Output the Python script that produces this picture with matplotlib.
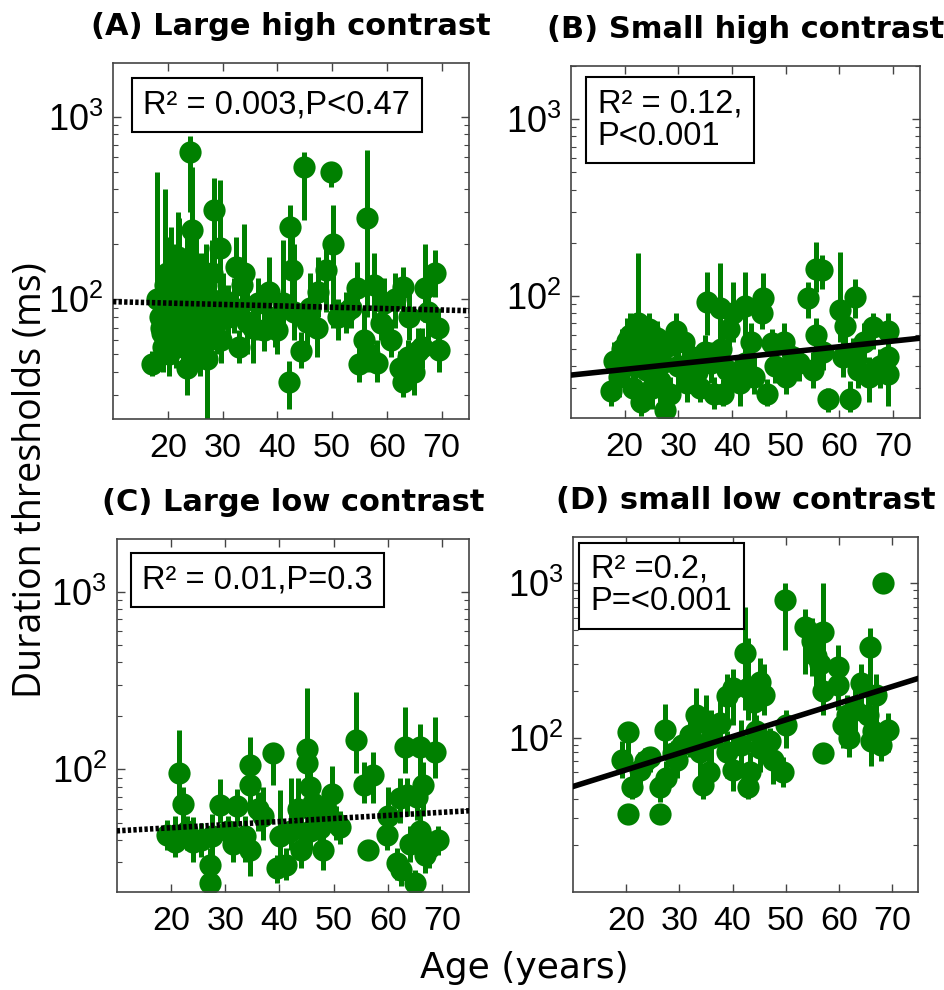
import numpy as np
import matplotlib
matplotlib.use("Agg")
import matplotlib.pyplot as plt
import matplotlib.ticker as mticker

GREEN = "#008000"

# ---- data (age in years, threshold in ms, error bar ends) ----
age_a = [24.1, 44.9, 49.8, 56.3, 28.4, 42.4, 50.1, 29.5, 32.4, 33.9, 42.7, 48.8, 68.7, 62.9, 66.9,
         54.5, 57.6, 17.1, 23.5, 27.2, 33.0, 42.1, 44.3, 55.0, 56.8, 63.0, 62.4, 69.6, 69.3, 65.7,
         53.4, 58.9, 60.7, 66.5, 40.0, 37.5, 45.5, 47.3, 43.0, 18.0, 18.5, 19.0, 19.5, 20.0, 20.5,
         21.0, 21.5, 22.0, 22.5, 23.0, 23.5, 24.0, 24.5, 24.5, 25.5, 26.0, 26.5, 27.0, 27.5, 28.5,
         29.0, 30.0, 31.0, 32.0, 34.5, 35.5, 36.5, 38.5, 39.5, 41.0, 46.0, 47.5, 51.0, 52.5, 59.5,
         61.5, 64.0, 67.5, 20.3, 22.8, 25.8, 28.0, 21.8, 19.8, 55.8, 58.2, 65.0, 63.8,
         18.8, 21.2, 23.8, 25.2, 26.8, 29.8, 19.2, 22.2, 24.8, 33.5]
thr_a = [640, 530, 500, 280, 310, 250, 200, 190, 150, 140, 145, 145, 140, 117, 115,
         115, 120, 44, 42, 47, 55, 35, 52, 44, 50, 35, 42, 53, 70, 52,
         90, 74, 60, 55, 68, 68, 75, 70, 85, 100, 80, 65, 120, 90, 75,
         110, 60, 130, 95, 70, 150, 85, 110, 240, 65, 100, 80, 120, 60, 90,
         75, 100, 80, 90, 75, 70, 95, 110, 80, 95, 90, 110, 80, 85, 95,
         100, 80, 85, 50, 55, 48, 140, 170, 140, 60, 45, 40, 48,
         70, 85, 60, 130, 70, 60, 55, 105, 75, 120]
lo_a = [300, 272, 410, 80, 140, 140, 70, 110, 100, 90, 95, 85, 103, 80, 75,
        85, 75, 38, 30, 22, 45, 25, 42, 35, 40, 29, 33, 40, 55, 40,
        70, 60, 48, 42, 50, 52, 55, 48, 60, 60, 55, 45, 80, 60, 50,
        70, 42, 80, 60, 45, 90, 55, 60, 150, 45, 60, 50, 70, 45, 60,
        50, 70, 55, 65, 50, 45, 60, 80, 55, 70, 65, 80, 60, 65, 70,
        70, 60, 60, 38, 40, 38, 90, 100, 90, 45, 35, 30, 36,
        45, 55, 42, 80, 45, 45, 40, 70, 50, 80]
hi_a = [780, 640, 500, 660, 460, 330, 330, 450, 220, 260, 230, 200, 186, 150, 200,
        160, 180, 52, 60, 58, 68, 46, 66, 55, 65, 45, 52, 65, 90, 70,
        110, 95, 78, 70, 90, 120, 100, 120, 200, 500, 130, 120, 400, 160, 250,
        200, 90, 280, 180, 140, 250, 160, 530, 330, 100, 180, 140, 200, 90, 140,
        110, 140, 120, 130, 110, 100, 130, 170, 120, 210, 140, 170, 100, 110, 130,
        140, 110, 115, 70, 75, 62, 210, 300, 220, 90, 60, 52, 60,
        110, 150, 90, 220, 120, 85, 75, 170, 120, 170]

age_b = [22.4, 35.3, 37.8, 40.2, 42.4, 45.8, 45.5, 55.7, 54.2, 56.7, 62.9, 60.1, 61.0, 66.3, 69.0,
         69.0, 69.0, 65.6, 57.9, 61.9, 17.4, 18.0, 20.5, 23.0, 27.6, 29.5, 31.6, 32.6, 35.0, 36.6,
         38.4, 39.0, 41.5, 44.0, 46.5, 47.4, 49.6, 51.4, 55.1, 55.7, 60.7, 62.5, 19.0, 19.5, 20.0,
         21.0, 21.5, 22.0, 23.5, 24.0, 24.5, 25.0, 25.5, 26.0, 26.5, 27.0, 28.0, 28.5, 30.0, 31.0,
         33.5, 34.0, 36.0, 38.0, 39.5, 42.5, 43.5, 48.0, 50.0, 52.5, 57.0, 63.5, 64.5, 67.5]
thr_b = [70, 93, 85, 80, 88, 97, 80, 143, 97, 140, 99, 83, 68, 67, 63,
         45, 36, 35, 26, 26, 29, 43, 56, 25, 22.6, 63, 32, 45, 48, 28,
         28, 38, 32, 35, 28, 54, 55, 45, 38, 60, 45, 45, 35, 50, 40,
         60, 30, 45, 55, 38, 65, 30, 48, 58, 33, 42, 52, 28, 40, 55,
         37, 30, 42, 50, 65, 42, 55, 40, 35, 42, 48, 38, 55, 40]
lo_b = [45, 60, 55, 55, 55, 72, 65, 105, 75, 110, 75, 55, 50, 50, 45,
        35, 24, 25, 22, 22, 24, 33, 40, 21, 20, 45, 25, 35, 38, 23,
        24, 30, 24, 28, 24, 42, 45, 35, 30, 45, 35, 35, 27, 38, 30,
        45, 24, 33, 40, 28, 50, 23, 35, 45, 25, 32, 40, 22, 30, 42,
        28, 25, 32, 40, 48, 33, 40, 32, 28, 33, 38, 30, 42, 30]
hi_b = [175, 137, 153, 120, 137, 135, 110, 203, 120, 170, 125, 178, 90, 80, 80,
        60, 45, 45, 30, 33, 35, 55, 75, 32, 28, 80, 38, 55, 60, 35,
        34, 50, 40, 45, 34, 65, 70, 52, 48, 75, 60, 58, 45, 65, 55,
        80, 40, 60, 75, 50, 80, 40, 60, 72, 45, 52, 65, 35, 50, 65,
        45, 36, 55, 60, 80, 52, 70, 50, 42, 50, 60, 48, 70, 50]

age_c = [21.4, 22.3, 19.2, 20.7, 24.1, 27.2, 27.2, 27.5, 29.0, 32.1, 34.6, 34.6, 33.6, 34.6, 38.9,
         39.5, 41.3, 40.1, 42.2, 45.0, 45.0, 45.6, 46.2, 45.6, 47.5, 48.1, 49.6, 51.2, 54.2, 55.5,
         57.3, 56.4, 59.8, 60.1, 62.2, 63.2, 65.9, 68.7, 66.5, 65.3, 61.6, 62.5, 65.0, 65.9, 66.8,
         69.3, 67.5, 36.0, 37.0, 43.5, 30.5, 25.5, 31.5, 44.0, 48.5, 50.5, 23.0, 47.0, 64.0, 63.5]
thr_c = [95, 64, 43, 39, 39, 29, 23, 42, 63, 62, 106, 82, 42, 35, 123,
         28, 29, 42, 45, 131, 108, 80, 65, 45, 47, 35, 73, 47.5, 146, 82,
         93, 35, 43, 55, 69, 134, 134, 126, 82, 70, 29.6, 27, 22.8, 45, 33,
         40, 36, 60, 55, 60, 45, 40, 38, 35, 60, 50, 45, 55, 38, 72]
lo_c = [70, 50, 35, 32, 30, 24, 20, 32, 50, 48, 60, 60, 30, 25, 82,
        23, 24, 32, 35, 85, 80, 60, 50, 35, 37, 27, 50, 38, 95, 65,
        65, 35, 35, 42, 50, 95, 90, 90, 55, 52, 24, 22, 20, 33, 26,
        33, 28, 45, 40, 45, 35, 32, 30, 28, 45, 40, 35, 40, 30, 55]
hi_c = [166, 80, 52, 55, 54, 36, 28, 56, 88, 78, 153, 110, 55, 45, 123,
        33, 36, 77, 90, 286, 150, 110, 80, 60, 60, 42, 105, 58, 273, 110,
        125, 35, 52, 80, 90, 225, 181, 198, 110, 90, 36, 33, 27, 60, 40,
        48, 45, 75, 80, 90, 55, 50, 48, 55, 80, 62, 55, 70, 48, 90]

age_d = [68.3, 49.8, 53.6, 57.0, 55.8, 65.8, 42.3, 42.9, 40.1, 45.1, 59.8, 59.8, 64.2, 67.0, 57.0,
         20.3, 19.1, 21.0, 20.3, 24.4, 22.5, 27.2, 26.3, 27.5, 26.3, 28.8, 31.9, 33.2, 35.0, 34.4,
         33.8, 37.6, 38.9, 40.1, 42.9, 45.1, 47.6, 49.5, 50.1, 57.0, 60.8, 62.0, 66.1, 69.2, 65.5,
         63.0, 44.0, 46.0, 39.0, 36.0, 30.5, 23.5, 29.5, 47.0, 44.5, 61.5, 56.5, 55.0, 66.5, 68.0,
         43.2, 41.5, 35.5]
thr_d = [1000, 780, 520, 486, 340, 388, 352, 210, 209, 230, 288, 220, 225, 189, 200,
         109, 72, 48, 32, 75, 62, 112, 48, 55, 32, 79, 104, 140, 125, 49,
         80, 125, 80, 62, 48, 85, 72, 60, 121, 79, 120, 100, 95, 112, 140,
         150, 170, 190, 185, 100, 90, 70, 72, 95, 110, 140, 300, 420, 110, 90,
         60, 90, 60]
lo_d = [880, 370, 260, 230, 200, 210, 150, 130, 120, 150, 180, 150, 140, 120, 140,
        70, 55, 40, 32, 60, 50, 75, 38, 45, 32, 60, 75, 90, 90, 40,
        55, 80, 55, 45, 40, 60, 50, 48, 85, 79, 85, 75, 65, 80, 90,
        110, 120, 140, 130, 65, 70, 55, 55, 70, 80, 100, 200, 250, 80, 70,
        45, 65, 48]
hi_d = [1000, 1000, 680, 1000, 550, 510, 700, 440, 280, 330, 400, 290, 300, 260, 250,
        115, 95, 65, 32, 85, 80, 165, 60, 70, 32, 95, 130, 210, 190, 60,
        100, 190, 110, 100, 60, 120, 105, 75, 150, 79, 160, 130, 125, 145, 200,
        230, 230, 300, 260, 150, 110, 85, 90, 115, 140, 190, 420, 600, 150, 110,
        80, 130, 75]

# regression lines, evaluated at the x-axis limits
fit_x = [10, 75]
fit_a = [97, 86.6]
fit_b = [35.7, 57.7]
fit_c = [45.1, 58.5]
fit_d = [48.2, 242]

titles = ["(A) Large high contrast", "(B) Small high contrast",
          "(C) Large low contrast", "(D) small low contrast"]
stats = ["R² = 0.003,P<0.47", "R² = 0.12,\nP<0.001",
         "R² = 0.01,P=0.3", "R² =0.2,\nP=<0.001"]
age_ticks = [20, 30, 40, 50, 60, 70]


def draw_panel(ax, age, thr, lo, hi, fit_y, ls, title, stat, ylim, box_xy):
    thr = np.asarray(thr, float)
    yerr = [thr - np.asarray(lo, float), np.asarray(hi, float) - thr]
    ax.errorbar(age, thr, yerr=yerr, fmt="o", color=GREEN, ms=16, mew=0,
                elinewidth=3.6, capsize=2.5, capthick=3)
    ax.plot(fit_x, fit_y, color="black", lw=4, ls=ls, zorder=5)
    ax.set_yscale("log")
    ax.set_xlim(10, 75)
    ax.set_ylim(*ylim)
    ax.set_xticks(age_ticks)
    ax.set_yticks([100, 1000])
    ax.yaxis.set_major_formatter(mticker.FuncFormatter(
        lambda v, p: r"$\mathdefault{10^{%d}}$" % round(np.log10(v))))
    ax.yaxis.set_minor_locator(mticker.LogLocator(base=10, subs=np.arange(2, 10)))
    ax.yaxis.set_minor_formatter(mticker.NullFormatter())
    ax.tick_params(which="both", direction="in", top=True, right=True, color="#444444")
    ax.tick_params(which="major", length=6, width=1)
    ax.tick_params(which="minor", length=3.5, width=0.8)
    ax.tick_params(axis="x", labelsize=24.5, pad=10)
    ax.tick_params(axis="y", labelsize=26, pad=7)
    for lab in ax.get_xticklabels() + ax.get_yticklabels():
        lab.set_family("Liberation Sans")
    for s in ax.spines.values():
        s.set_color("#444444")
        s.set_linewidth(1.2)
    ax.set_title(title, fontsize=22, fontweight="bold", pad=20)
    ax.text(box_xy[0], box_xy[1], stat, transform=ax.transAxes, ha="left", va="top",
            fontsize=23.5, family="Liberation Sans", linespacing=1.05, zorder=6,
            bbox=dict(boxstyle="square,pad=0.35", fc="white", ec="black", lw=1.5))


fig = plt.figure(figsize=(9.45, 9.9), dpi=100)
ax_a = fig.add_axes([0.1196, 0.5765, 0.3767, 0.3602])
ax_b = fig.add_axes([0.6042, 0.5781, 0.3693, 0.3553])
ax_c = fig.add_axes([0.1235, 0.0993, 0.3731, 0.3563])
ax_d = fig.add_axes([0.6067, 0.0993, 0.3651, 0.3580])

dotted = (0, (0.6, 0.4))
draw_panel(ax_a, age_a, thr_a, lo_a, hi_a, fit_a, dotted, titles[0], stats[0], (22, 1980), (0.085, 0.925))
draw_panel(ax_b, age_b, thr_b, lo_b, hi_b, fit_b, "-", titles[1], stats[1], (20.5, 2000), (0.077, 0.936))
draw_panel(ax_c, age_c, thr_c, lo_c, hi_c, fit_c, dotted, titles[2], stats[2], (20.5, 1980), (0.073, 0.928))
draw_panel(ax_d, age_d, thr_d, lo_d, hi_d, fit_d, "-", titles[3], stats[3], (10, 1990), (0.05, 0.953))

fig.text(0.032, 0.515, "Duration thresholds (ms)", rotation=90, ha="center", va="center",
         fontsize=27, family="Open Sans")
fig.text(0.555, 0.022, "Age (years)", ha="center", va="center", fontsize=26)

fig.savefig("out.png", dpi=100, facecolor="white")
